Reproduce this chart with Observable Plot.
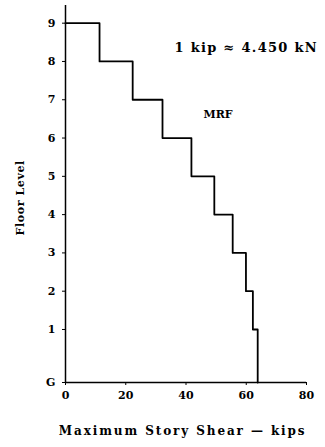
<!DOCTYPE html>
<html>
<head>
<meta charset="utf-8">
<script src="https://cdn.jsdelivr.net/npm/d3@7"></script>
<script src="https://cdn.jsdelivr.net/npm/@observablehq/plot@0.6"></script>
<style>
  html, body { margin: 0; padding: 0; background: #fff; }
  svg { display: block; }
  g[aria-description="wide"] text { letter-spacing: 1.3px; }
  g[aria-description="wide2"] text { letter-spacing: 1.9px; }
  g[aria-description="wide3"] text { letter-spacing: 0.6px; }
</style>
</head>
<body>
<div id="chart"></div>
<script>
// Floor levels (bottom to top) and their elevations (ft)
const floorLabels = ["G", "1", "2", "3", "4", "5", "6", "7", "8", "9"];
const floorElev   = [0, 18, 31, 44, 57, 70, 83, 96, 109, 122];
// Maximum story shear (kips) for stories 1..9 (story i spans level i-1 to level i)
const storyShear  = [63.8, 62.2, 59.9, 55.5, 49.4, 41.8, 32.2, 22.3, 11.3];
const xTicks = [0, 20, 40, 60, 80];

// Build the step profile from the arrays (top to bottom)
const pts = [{x: 0, y: floorElev[9]}];
for (let s = 9; s >= 1; s--) {
  const v = storyShear[s - 1];
  pts.push({x: v, y: floorElev[s]});
  pts.push({x: v, y: floorElev[s - 1]});
}

const font = "'DejaVu Serif', serif";

const chart = Plot.plot({
  width: 325,
  height: 447,
  marginLeft: 65,
  marginRight: 19,
  marginTop: 5,
  marginBottom: 65,
  style: {fontFamily: font, fontWeight: "bold", fontSize: "11px", color: "#000", background: "#fff"},
  x: {domain: [0, 80]},
  y: {domain: [0, 128]},
  marks: [
    Plot.axisX({ticks: xTicks, tickSize: 3, tickPadding: 6, label: null, fontSize: 11}),
    Plot.axisY({ticks: floorElev, tickFormat: (d, i) => floorLabels[i], tickSize: 3, tickPadding: 7, label: null, fontSize: 11}),
    Plot.ruleX([0], {stroke: "#000", strokeWidth: 1.5}),
    Plot.ruleY([0], {stroke: "#000", strokeWidth: 1.5}),
    Plot.line(pts, {x: "x", y: "y", stroke: "#000", strokeWidth: 1.8}),
    Plot.text(["1 kip \u2248 4.450 kN"], {x: 36.2, y: 113.5, text: d => d, textAnchor: "start", fontSize: 13, fontWeight: "bold", ariaDescription: "wide"}),
    Plot.text(["MRF"], {x: 45.8, y: 91, text: d => d, textAnchor: "start", fontSize: 11, fontWeight: "bold"}),
    Plot.text(["Floor Level"], {x: 0, y: 62.7, dx: -45, text: d => d, rotate: -90, fontSize: 11, fontWeight: "bold", ariaDescription: "wide3"}),
    Plot.text(["Maximum Story Shear \u2014 kips"], {frameAnchor: "bottom", x: 38.9, dy: 52, text: d => d, fontSize: 12, fontWeight: "bold", ariaDescription: "wide2"})
  ]
});
document.getElementById("chart").appendChild(chart);
</script>
</body>
</html>
